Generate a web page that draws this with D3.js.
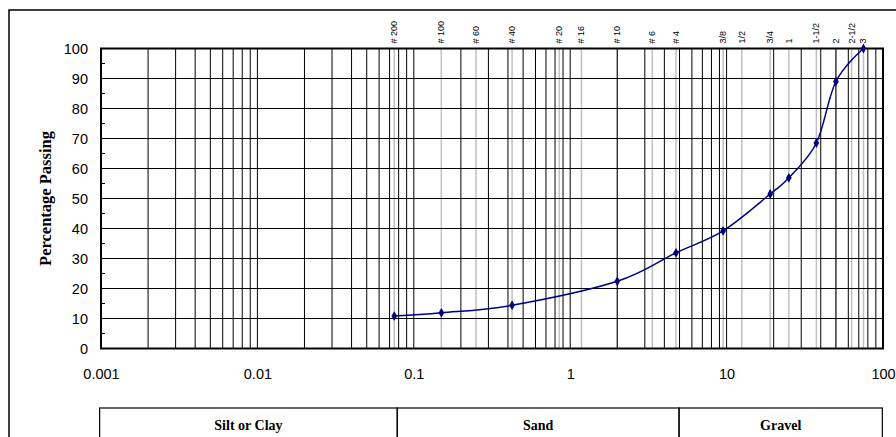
<!DOCTYPE html>
<html>
<head>
<meta charset="utf-8">
<script src="https://cdn.jsdelivr.net/npm/d3@7"></script>
<style>
  body { margin: 0; background: #fff; }
  svg { display: block; }
</style>
</head>
<body>
<div id="chart"></div>
<script>
// grain size (mm) and percentage passing
var sizes   = [0.075, 0.15, 0.425, 2.0, 4.75, 9.5, 19, 25, 37.5, 50, 75];
var passing = [10.8, 11.9, 14.4, 22.4, 31.9, 39.2, 51.5, 56.9, 68.5, 89.0, 100];

// sieve openings (mm) and their names, drawn as gray guide lines
var sieveSizes  = [0.075, 0.15, 0.25, 0.425, 0.85, 1.18, 2.0, 3.35, 4.75, 9.5, 12.5, 19, 25, 37.5, 50, 63, 75];
var sieveLabels = ["# 200", "# 100", "# 60", "# 40", "# 20", "# 16", "# 10", "# 6", "# 4", "3/8", "1/2", "3/4", "1", "1-1/2", "2", "2-1/2", "3"];

var xTicks = [0.001, 0.01, 0.1, 1, 10, 100];
var xTickLabels = ["0.001", "0.01", "0.1", "1", "10", "100"];
var yTicks = [0, 10, 20, 30, 40, 50, 60, 70, 80, 90, 100];

// soil classes and the sizes that split them
var classNames = ["Silt or Clay", "Sand", "Gravel"];
var classBreaks = [0.075, 4.75];

var W = 896, H = 437;
var margin = {top: 48.5, left: 101, right: 13, bottom: 88.5};
var width = W - margin.left - margin.right,
    height = H - margin.top - margin.bottom;

var x = d3.scaleLog().domain([0.001, 100]).range([0, width]);
var y = d3.scaleLinear().domain([0, 100]).range([height, 0]);

var svg = d3.select("#chart").append("svg")
    .attr("width", W)
    .attr("height", H);

// outer frame of the chart sheet (runs off the right and bottom)
svg.append("rect")
    .attr("x", 9).attr("y", 10)
    .attr("width", W + 20).attr("height", H + 20)
    .attr("fill", "none")
    .attr("stroke", "#000")
    .attr("stroke-width", 1.5);

var g = svg.append("g")
    .attr("transform", "translate(" + margin.left + "," + margin.top + ")");

// log minor grid: 1..9 of each decade
var minor = [];
for (var k = -3; k <= 1; k++) {
  for (var m = 1; m <= 9; m++) minor.push(m * Math.pow(10, k));
}

// sieve guide lines (under the black grid)
g.selectAll(".sieve")
    .data(sieveSizes)
  .enter().append("line")
    .attr("class", "sieve")
    .attr("x1", function(d) { return x(d); })
    .attr("x2", function(d) { return x(d); })
    .attr("y1", 0).attr("y2", height)
    .attr("stroke", "#c0c0c0")
    .attr("stroke-width", 1.5);

g.selectAll(".vgrid")
    .data(minor)
  .enter().append("line")
    .attr("class", "vgrid")
    .attr("x1", function(d) { return x(d); })
    .attr("x2", function(d) { return x(d); })
    .attr("y1", 0).attr("y2", height)
    .attr("stroke", "#000")
    .attr("stroke-width", 1);

g.selectAll(".hgrid")
    .data(yTicks)
  .enter().append("line")
    .attr("class", "hgrid")
    .attr("x1", 0).attr("x2", width)
    .attr("y1", function(d) { return y(d); })
    .attr("y2", function(d) { return y(d); })
    .attr("stroke", "#000")
    .attr("stroke-width", 1);

// minor y ticks at the fives, pointing inward
g.selectAll(".ytickminor")
    .data(yTicks.slice(1).map(function(d) { return d - 5; }))
  .enter().append("line")
    .attr("x1", 0).attr("x2", 4)
    .attr("y1", function(d) { return y(d); })
    .attr("y2", function(d) { return y(d); })
    .attr("stroke", "#000");

// plot border
g.append("rect")
    .attr("width", width).attr("height", height)
    .attr("fill", "none")
    .attr("stroke", "#000")
    .attr("stroke-width", 2);

// axes (text only, grid already drawn)
var yAxis = d3.axisLeft(y).tickValues(yTicks).tickSize(0).tickPadding(13);
g.append("g").call(yAxis)
    .call(function(s) { s.select(".domain").remove(); })
    .selectAll("text")
      .attr("font-family", "Liberation Sans, Arial, sans-serif")
      .attr("font-size", 14.5)
      .attr("fill", "#000");

var xAxis = d3.axisBottom(x).tickValues(xTicks)
    .tickFormat(function(d, i) { return xTickLabels[i]; })
    .tickSize(0).tickPadding(20);
g.append("g").attr("transform", "translate(0," + height + ")").call(xAxis)
    .call(function(s) { s.select(".domain").remove(); })
    .selectAll("text")
      .attr("font-family", "Liberation Sans, Arial, sans-serif")
      .attr("font-size", 14.5)
      .attr("fill", "#000");

// sieve names above the plot
g.selectAll(".sievelabel")
    .data(sieveSizes)
  .enter().append("text")
    .attr("class", "sievelabel")
    .attr("transform", function(d) { return "translate(" + (x(d) + 3) + ",-5) rotate(-90)"; })
    .attr("font-family", "Liberation Sans, Arial, sans-serif")
    .attr("font-size", 9)
    .attr("fill", "#000")
    .text(function(d, i) { return sieveLabels[i]; });

// y title
svg.append("text")
    .attr("transform", "translate(51," + (margin.top + height / 2) + ") rotate(-90)")
    .attr("text-anchor", "middle")
    .attr("font-family", "Liberation Serif, Times New Roman, serif")
    .attr("font-weight", "bold")
    .attr("font-size", 16.5)
    .text("Percentage Passing");

// gradation curve
var pts = sizes.map(function(d, i) { return [d, passing[i]]; });
var line = d3.line()
    .x(function(d) { return x(d[0]); })
    .y(function(d) { return y(d[1]); })
    .curve(d3.curveCardinal.tension(0));

g.append("path")
    .datum(pts)
    .attr("fill", "none")
    .attr("stroke", "#000080")
    .attr("stroke-width", 1.5)
    .attr("d", line);

g.selectAll(".pt")
    .data(pts)
  .enter().append("path")
    .attr("class", "pt")
    .attr("transform", function(d) { return "translate(" + x(d[0]) + "," + y(d[1]) + ")"; })
    .attr("d", d3.symbol(d3.symbolDiamond, 28))
    .attr("fill", "#000080");

// soil classification table under the axis
var tableTop = height + 59.5;
var edges = [0.00098, classBreaks[0], classBreaks[1], 99];
var shift = 3;
function edgeX(v) { return x(v) + (v === edges[0] || v === edges[3] ? 0 : shift); }
var cells = classNames.map(function(name, i) { return {name: name, x0: edges[i], x1: edges[i + 1]}; });
var table = g.append("g").attr("transform", "translate(0," + tableTop + ")");
table.selectAll("rect")
    .data(cells)
  .enter().append("rect")
    .attr("x", function(d) { return edgeX(d.x0); })
    .attr("width", function(d) { return edgeX(d.x1) - edgeX(d.x0); })
    .attr("y", 0).attr("height", 60)
    .attr("fill", "none")
    .attr("stroke", "#000")
    .attr("stroke-width", 1.2);
table.selectAll("text")
    .data(cells)
  .enter().append("text")
    .attr("x", function(d) { return (edgeX(d.x0) + edgeX(d.x1)) / 2; })
    .attr("y", 22)
    .attr("text-anchor", "middle")
    .attr("font-family", "Liberation Serif, Times New Roman, serif")
    .attr("font-weight", "bold")
    .attr("font-size", 14)
    .text(function(d) { return d.name; });
</script>
</body>
</html>
